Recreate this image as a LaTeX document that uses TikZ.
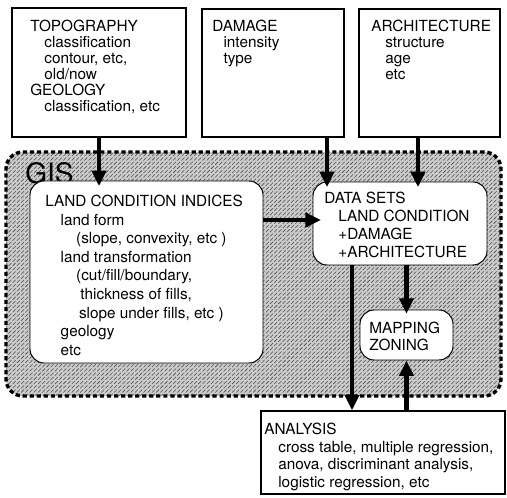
\documentclass[tikz,border=0pt]{standalone}
\usepackage{fontspec}
\setmainfont{TeX Gyre Heros}
\usetikzlibrary{arrows.meta,calc,fit,patterns}

\begin{document}
\begin{tikzpicture}[x=0.025cm,y=-0.025cm,
    box/.style={draw=black,line width=0.9pt,fill=white,inner sep=0pt},
    rbox/.style={draw=black,line width=0.7pt,fill=white,inner sep=0pt,
      rounded corners=10pt},
    gisarea/.style={draw=black,line width=2.4pt,dash pattern=on 3pt off 2pt,
      rounded corners=12pt,inner sep=0pt,preaction={fill=black!20},
      pattern=north east lines,pattern color=black!70},
    txt/.style={anchor=north west,inner sep=0pt,align=left,
      font=\fontsize{10.9}{#1}\selectfont},
    txt/.default=11.4,
    arr/.style={line width=3.2pt,-{Triangle[length=11pt,width=10pt]}}]
  \useasboundingbox[fill=white] (0,0) rectangle (507,498);

  % GIS region
  \node[gisarea,fit={(6,152) (501,396)}] (gis) {};
  \node[anchor=north west,inner sep=0pt,font=\fontsize{20}{22}\selectfont]
    (gislabel) at (25,162) {GIS};

  % source boxes
  \node[box,fit={(12,8) (186,137)}] (topo) {};
  \node[box,fit={(202,9) (344,137)}] (damage) {};
  \node[box,fit={(359,9) (500,137)}] (arch) {};
  \node[txt] (topotxt) at (30,20) {TOPOGRAPHY\\
    \hspace*{10pt}classification\\
    \hspace*{10pt}contour, etc,\\
    \hspace*{10pt}old/now\\
    GEOLOGY\\
    \hspace*{10pt}classification, etc};
  \node[txt] (damagetxt) at (212,20) {DAMAGE\\
    \hspace*{8pt}intensity\\
    \hspace*{8pt}type};
  \node[txt] (archtxt) at (371,20) {ARCHITECTURE\\
    \hspace*{10pt}structure\\
    \hspace*{10pt}age\\
    \hspace*{10pt}etc};

  % GIS boxes
  \node[rbox,fit={(30,181) (263,363)}] (lci) {};
  \node[rbox,fit={(313,182) (487,265)}] (datasets) {};
  \node[rbox,fit={(360,310) (453,360)}] (mapping) {};
  \node[txt=13.2] (lcitxt) at (45,195) {LAND CONDITION INDICES\\
    \hspace*{11pt}land form\\
    \hspace*{22pt}(slope, convexity, etc )\\
    \hspace*{11pt}land transformation\\
    \hspace*{22pt}(cut/fill/boundary,\\
    \hspace*{25pt}thickness of fills,\\
    \hspace*{24pt}slope under fills, etc )\\
    \hspace*{11pt}geology\\
    \hspace*{11pt}etc};
  \node[txt=12.8] (datatxt) at (324,192) {DATA SETS\\
    \hspace*{10pt}LAND CONDITION\\
    \hspace*{10pt}+DAMAGE\\
    \hspace*{10pt}+ARCHITECTURE};
  \node[txt=12.1] (maptxt) at (369,322) {MAPPING\\ZONING};

  % analysis
  \node[box,fit={(261,411) (505,494)}] (analysis) {};
  \node[txt=12.4] (anatxt) at (264,423) {ANALYSIS\\
    \hspace*{10pt}cross table, multiple regression,\\
    \hspace*{10pt}anova, discriminant analysis,\\
    \hspace*{10pt}logistic regression, etc};

  % connectors
  \draw[arr,shorten >=-4pt] (topo.south) -- (topo.south |- lci.north);
  \draw[arr,shorten >=-4pt] (damage.south -| 327,0) -- (datasets.north -| 327,0);
  \draw[arr,shorten >=-4pt] (arch.south -| 418,0) -- (datasets.north -| 418,0);
  \draw[arr,shorten >=-6pt] (lci.east |- 0,220) -- (datasets.west |- 0,220);
  \draw[arr,shorten >=-3pt] (datasets.south -| mapping.north) -- (mapping.north);
  \draw[arr] (datasets.south -| 352,0) -- (analysis.north -| 352,0);
  \draw[arr] (analysis.north -| mapping.south) -- (mapping.south);
\end{tikzpicture}
\end{document}
